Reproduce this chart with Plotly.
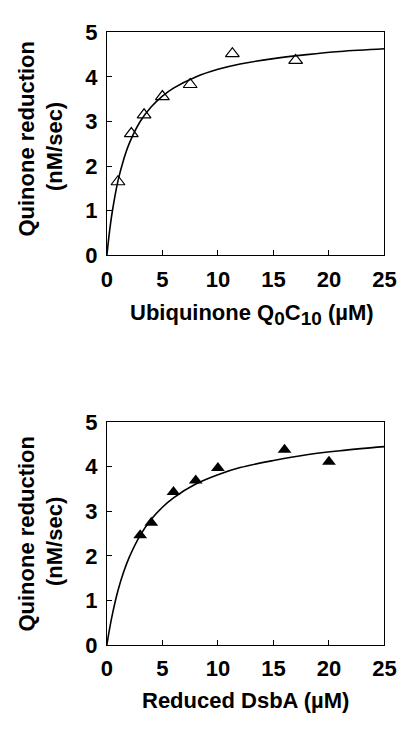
import plotly.graph_objects as go

# Top panel: ubiquinone Q0C10
q_x = [1.0, 2.2, 3.35, 5.0, 7.5, 11.3, 17.0]
q_y = [1.65, 2.73, 3.15, 3.56, 3.83, 4.52, 4.37]
q_fit_x = [0, 0.25, 0.5, 1, 1.5, 2, 3, 4, 5, 6, 8, 10, 12, 15, 18, 21, 25]
q_fit_y = [0, 0.56, 1.0, 1.67, 2.14, 2.5, 3.0, 3.33, 3.57, 3.75, 4.0, 4.17, 4.29, 4.41, 4.5, 4.57, 4.63]

# Bottom panel: reduced DsbA
d_x = [3, 4, 6, 8, 10, 16, 20]
d_y = [2.46, 2.74, 3.43, 3.69, 3.97, 4.38, 4.11]
d_fit_x = [0, 0.25, 0.5, 1, 1.5, 2, 3, 4, 5, 6, 8, 10, 12, 15, 18, 21, 25]
d_fit_y = [0, 0.37, 0.69, 1.22, 1.63, 1.96, 2.46, 2.82, 3.09, 3.30, 3.61, 3.82, 3.98, 4.14, 4.27, 4.36, 4.45]

x_ticks = [0, 5, 10, 15, 20, 25]
y_ticks = [0, 1, 2, 3, 4, 5]

FONT = "Arial, Liberation Sans, sans-serif"

fig = go.Figure()
fig.add_trace(go.Scatter(x=q_fit_x, y=q_fit_y, mode="lines", line=dict(color="black", width=1.6, shape="spline"),
                         xaxis="x", yaxis="y", hoverinfo="skip"))
fig.add_trace(go.Scatter(x=q_x, y=q_y, mode="markers",
                         marker=dict(symbol="triangle-up-open", size=12, color="black", line=dict(width=1.2)),
                         xaxis="x", yaxis="y"))
fig.add_trace(go.Scatter(x=d_fit_x, y=d_fit_y, mode="lines", line=dict(color="black", width=1.6, shape="spline"),
                         xaxis="x2", yaxis="y2", hoverinfo="skip"))
fig.add_trace(go.Scatter(x=d_x, y=d_y, mode="markers",
                         marker=dict(symbol="triangle-up", size=12, color="black"),
                         xaxis="x2", yaxis="y2"))

axis_common = dict(showgrid=False, zeroline=False, showline=True, linecolor="black", linewidth=1.2,
                   mirror=True, ticks="inside", ticklen=5, tickwidth=1, tickcolor="black",
                   tickfont=dict(family=FONT, size=22, color="black", weight=900))

fig.update_layout(
    width=409, height=730, margin=dict(l=0, r=0, t=0, b=0),
    paper_bgcolor="white", plot_bgcolor="white", showlegend=False,
    xaxis=dict(domain=[0.258, 0.968], range=[0, 25], tickvals=x_ticks, anchor="y",
               ticklabelstandoff=4, **axis_common),
    yaxis=dict(domain=[0.6548, 0.9712], range=[0, 5], tickvals=y_ticks, anchor="x",
               ticklabelstandoff=4, **axis_common),
    xaxis2=dict(domain=[0.258, 0.968], range=[0, 25], tickvals=x_ticks, anchor="y2",
                ticklabelstandoff=4, **axis_common),
    yaxis2=dict(domain=[0.1023, 0.4182], range=[0, 5], tickvals=y_ticks, anchor="x2",
                ticklabelstandoff=4, **axis_common),
)

tf = dict(family=FONT, size=22, color="black", weight="bold")
sub = "<sub><span style='font-size:19px'>%s</span></sub>"
ann = [
    dict(text="Ubiquinone Q" + sub % "0" + "C" + sub % "10" + " (µM)", x=257, y=730 - 313),
    dict(text="Reduced DsbA (µM)", x=251, y=730 - 713),
    dict(text="Quinone reduction", x=21, y=730 - 131, textangle=-90),
    dict(text="(nM/sec)", x=50, y=730 - 139, textangle=-90),
    dict(text="Quinone reduction", x=21, y=730 - 540, textangle=-90),
    dict(text="(nM/sec)", x=50, y=730 - 548, textangle=-90),
]
for a in ann:
    fig.add_annotation(text=a["text"], x=a["x"] / 409, y=a["y"] / 730, xref="paper", yref="paper",
                       xanchor="center", yanchor="middle", showarrow=False,
                       textangle=a.get("textangle", 0), font=tf)

fig.write_html("out.html")
